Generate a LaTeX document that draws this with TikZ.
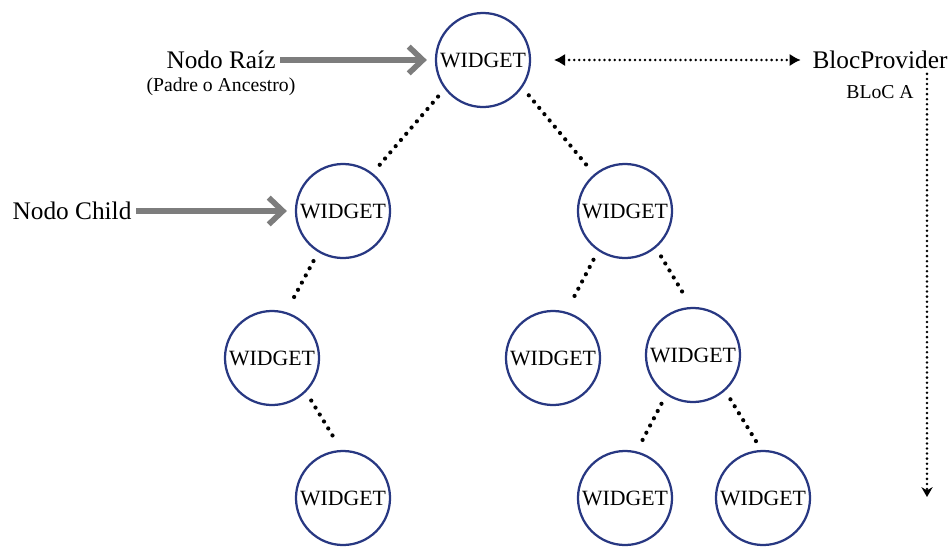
\documentclass[tikz,border=0pt]{standalone}
\usepackage{fontspec}
\setmainfont{Liberation Serif}
\usetikzlibrary{arrows.meta}
\definecolor{navy}{RGB}{40,56,130}
\definecolor{arrowgray}{RGB}{125,125,125}
\begin{document}
\begin{tikzpicture}[x=0.025cm, y=-0.025cm,
        widget/.style={circle, draw=navy, line width=1.6pt, minimum size=2.35cm, inner sep=0pt, font=\fontsize{15.5}{17}\selectfont},
        link/.style={line width=3pt, line cap=round, dash pattern=on 0pt off 5.8pt, shorten <=0.25cm, shorten >=0.25cm},
        pointer/.style={arrowgray, line width=4pt, -{Straight Barb[length=10pt,width=19pt]}, shorten >=0.2cm},
        blocline/.style={line width=2pt, line cap=round, dash pattern=on 0pt off 3.6pt},
        big/.style={font=\fontsize{18}{20}\selectfont},
        small/.style={font=\fontsize{14}{16}\selectfont}]
                        \useasboundingbox (0,0) rectangle (952,547);
                        % arbol de widgets
                        \node[widget] (root) at (483,60) {WIDGET};
                        \node[widget] (c1) at (343,211) {WIDGET};
                        \node[widget] (c2) at (625,211) {WIDGET};
                        \node[widget] (l) at (272,358) {WIDGET};
                        \node[widget] (m) at (553,358) {WIDGET};
                        \node[widget] (r) at (693,355) {WIDGET};
                        \node[widget] (ll) at (343,498) {WIDGET};
                        \node[widget] (rl) at (625,498) {WIDGET};
                        \node[widget] (rr) at (763,498) {WIDGET};
                        \draw[link] (root.217) -- (c1.52);
                        \draw[link] (root.325) -- (c2.130);
                        \draw[link] (c1.239) -- (l.73);
                        \draw[link] (l.315) -- (ll.92);
                        \draw[link] (c2.236) -- (m.74);
                        \draw[link] (c2.310) -- (r.92);
                        \draw[link] (r.236) -- (rl.76);
                        \draw[link] (r.312) -- (rr.92);
                        % etiquetas
                        \node[big] (raiz) at (221,60) {Nodo Raíz};
                        \node[small] (padre) at (221,87) {(Padre o Ancestro)};
                        \node[big] (child) at (72,211) {Nodo Child};
                        \draw[pointer] (raiz) -- (root);
                        \draw[pointer] (child) -- (c1);
                        % bloc
                        \node[big] (bloc) at (880,60) {BlocProvider};
                        \node[small] (bloca) at (880,92) {BLoC A};
                        \coordinate (blocend) at (927,497);
                        \draw[blocline, {Latex[length=8pt,width=9pt]}-{Latex[length=8pt,width=9pt]}, shorten <=0.57cm, shorten >=0.17cm] (root) -- (bloc);
                        \draw[blocline, -{Stealth[length=7pt,width=8pt]}] (bloc.south -| blocend) -- (blocend);
                    \end{tikzpicture}
\end{document}
